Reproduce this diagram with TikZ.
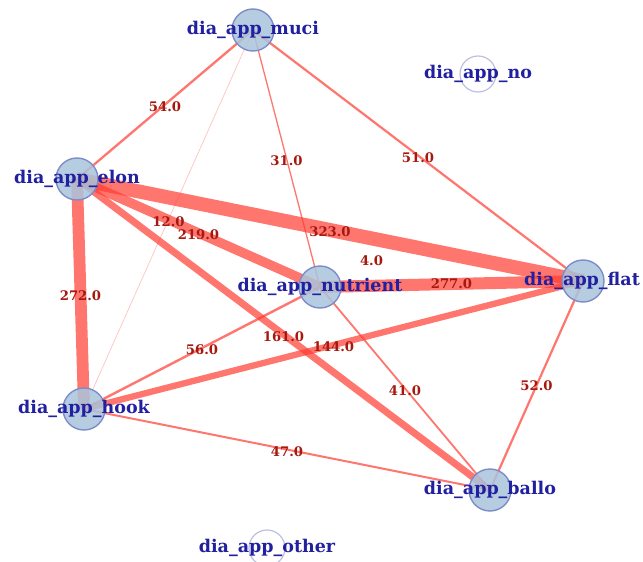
\documentclass[tikz,border=0pt]{standalone}
\usepackage{fontspec}
\setmainfont{DejaVu Serif}
\definecolor{edgec}{RGB}{255,60,50}
\definecolor{labc}{RGB}{32,32,160}
\definecolor{numc}{RGB}{165,25,15}
\definecolor{vfill}{RGB}{170,196,220}
\definecolor{vdraw}{RGB}{125,140,200}
\definecolor{hdraw}{RGB}{190,190,225}
\tikzset{
  vert/.style={circle,minimum size=42pt,inner sep=0pt,fill=vfill,fill opacity=0.85,draw=vdraw,line width=1.4pt},
  hollow/.style={circle,minimum size=36pt,inner sep=0pt,draw=hdraw,line width=1.2pt},
  lab/.style={text=labc,font=\fontsize{17.5}{17.5}\selectfont\bfseries,inner sep=0pt},
  num/.style={text=numc,font=\fontsize{13.2}{13.2}\selectfont\bfseries,inner sep=0pt},
  edge/.style={draw=edgec,draw opacity=0.7,line cap=butt},
}
\begin{document}
\begin{tikzpicture}[x=1pt,y=-1pt]
\useasboundingbox (0,0) rectangle (643,562);
\clip (0,0) rectangle (643,562);
\fill[white] (0,0) rectangle (643,562);
% vertices (positions)
\coordinate (pmuci) at (253,30);
\coordinate (pelon) at (77,179);
\coordinate (pnut) at (320,287);
\coordinate (pflat) at (583,281);
\coordinate (phook) at (84,409);
\coordinate (pballo) at (490,490);
\coordinate (pno) at (478,74);
\coordinate (pother) at (267,548);
% edges
\draw[edge,line width=14pt] (pelon) -- (pflat) node[midway,num,opacity=1,yshift=-2pt] {323.0};
\draw[edge,line width=12pt] (pnut) -- (pflat) node[midway,num,opacity=1] {277.0};
\draw[edge,line width=11.8pt] (pelon) -- (phook) node[midway,num,opacity=1,yshift=-2pt] {272.0};
\draw[edge,line width=9.5pt] (pelon) -- (pnut) node[midway,num,opacity=1,yshift=-2pt] {219.0};
\draw[edge,line width=7pt] (pelon) -- (pballo) node[midway,num,opacity=1,yshift=-2pt] {161.0};
\draw[edge,line width=6.3pt] (phook) -- (pflat) node[midway,num,opacity=1,yshift=-2pt] {144.0};
\draw[edge,line width=2.4pt] (phook) -- (pnut) node[midway,num,opacity=1,yshift=-2pt] {56.0};
\draw[edge,line width=2.3pt] (pmuci) -- (pelon) node[midway,num,opacity=1,yshift=-2pt] {54.0};
\draw[edge,line width=2.2pt] (pflat) -- (pballo) node[midway,num,opacity=1] {52.0};
\draw[edge,line width=2.2pt] (pmuci) -- (pflat) node[midway,num,opacity=1,yshift=-2pt] {51.0};
\draw[edge,line width=2pt] (phook) -- (pballo) node[midway,num,opacity=1,yshift=-2pt] {47.0};
\draw[edge,line width=1.8pt] (pnut) -- (pballo) node[midway,num,opacity=1,yshift=-2pt] {41.0};
\draw[edge,line width=1.3pt] (pmuci) -- (pnut) node[midway,num,opacity=1,yshift=-2pt] {31.0};
\draw[edge,draw opacity=0.3,line width=0.7pt] (pmuci) -- (phook) node[midway,num,opacity=1,yshift=-2pt] {12.0};
\path (pmuci) -- (pballo) node[midway,num,yshift=-1pt] {4.0};
% vertex circles
\node[vert] (muci) at (pmuci) {};
\node[vert] (elon) at (pelon) {};
\node[vert] (nut) at (pnut) {};
\node[vert] (flat) at (pflat) {};
\node[vert] (hook) at (phook) {};
\node[vert] (ballo) at (pballo) {};
\node[hollow] (no) at (pno) {};
\node[hollow] (other) at (pother) {};
% labels
\node[lab] at (muci) {dia\_app\_muci};
\node[lab] at (elon) {dia\_app\_elon};
\node[lab] at (nut) {dia\_app\_nutrient};
\node[lab,anchor=west] at ([xshift=-59pt]flat.center) {dia\_app\_flat};
\node[lab] at (hook) {dia\_app\_hook};
\node[lab] at (ballo) {dia\_app\_ballo};
\node[lab] at (no) {dia\_app\_no};
\node[lab] at (other) {dia\_app\_other};
\end{tikzpicture}
\end{document}
